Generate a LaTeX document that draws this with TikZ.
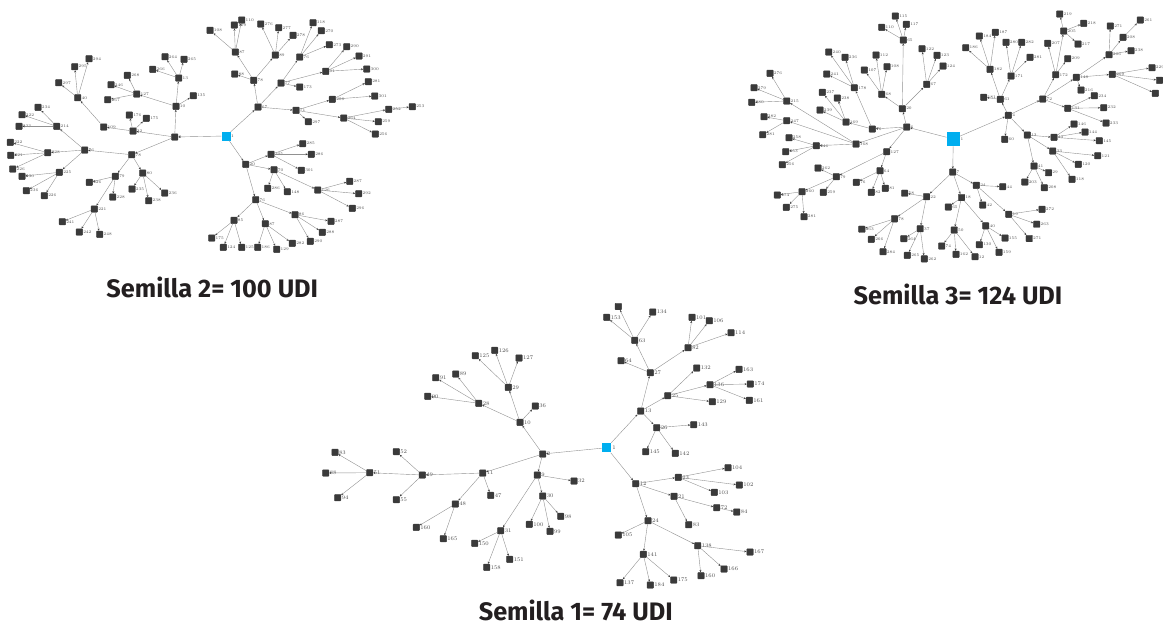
\documentclass[tikz,border=0pt]{standalone}
\usepackage{fontspec}
\newfontfamily\capfont{Fira Sans}
\usetikzlibrary{arrows.meta}
\definecolor{seed}{RGB}{0,174,239}
\definecolor{vertex}{RGB}{58,58,58}
\definecolor{link}{RGB}{145,145,145}
\definecolor{captxt}{RGB}{35,31,32}
\tikzset{
  sq/.style={draw=vertex,fill=vertex,minimum size=6.5pt,inner sep=0pt,rounded corners=0.7pt},
  seednode/.style={fill=seed,draw=none,inner sep=0pt},
  edge/.style={draw=link,line width=0.4pt,-{Stealth[length=2.3pt,width=2pt,color=black!75]}},
  lbl/.style={font=\fontsize{5.5}{6}\selectfont,text=black!70,inner sep=0.4pt,label distance=0pt},
  caption/.style={font=\capfont\bfseries\fontsize{25.3}{29}\selectfont,text=captxt,anchor=base,inner sep=0pt}
}
% tree vertex: name, x, y, printed number, parent
\newcommand\Tn[5]{%
  \node[sq,label={[lbl]right:#4}] (#1) at (#2,#3) {};%
  \draw[edge] (#5) -- (#1);}
\begin{document}
\begin{tikzpicture}[x=1pt,y=-1pt]
\useasboundingbox (0,0) rectangle (1163,632);

% ---------------- Semilla 1 ----------------
\begin{scope}
\node[seednode,minimum size=9.5pt,label={[lbl]right:1}] (a1) at (606.7,447.7) {};
\Tn{a2}{542.7}{454}{2}{a1}
\Tn{a10}{520}{422.3}{10}{a2}
\Tn{a28}{478.7}{403.3}{28}{a10}
\Tn{a91}{435.7}{377.7}{91}{a28}
\Tn{a89}{455.7}{374}{89}{a28}
\Tn{a90}{427.7}{396.3}{90}{a28}
\Tn{a29}{508.3}{387.3}{29}{a10}
\Tn{a125}{475.3}{355.7}{125}{a29}
\Tn{a126}{494.7}{350.3}{126}{a29}
\Tn{a127}{519}{358}{127}{a29}
\Tn{a36}{535.3}{406}{36}{a10}
\Tn{a11}{482.7}{473}{11}{a2}
\Tn{a49}{422.3}{475}{49}{a11}
\Tn{a51}{369.7}{472.7}{51}{a49}
\Tn{a83}{335}{452.3}{83}{a51}
\Tn{a88}{325.7}{473}{88}{a51}
\Tn{a94}{337.7}{497.7}{94}{a51}
\Tn{a52}{396.3}{451.7}{52}{a49}
\Tn{a55}{396.3}{499.7}{55}{a49}
\Tn{a47}{490.7}{495.3}{47}{a11}
\Tn{a48}{455.3}{504}{48}{a11}
\Tn{a160}{416.3}{527.3}{160}{a48}
\Tn{a165}{443.3}{538.7}{165}{a48}
\Tn{a9}{537.3}{475}{9}{a2}
\Tn{a32}{574}{481}{32}{a9}
\Tn{a30}{542.7}{496}{30}{a9}
\Tn{a100}{529.3}{524.3}{100}{a30}
\Tn{a99}{550}{531.3}{99}{a30}
\Tn{a98}{560.7}{516.3}{98}{a30}
\Tn{a31}{500.7}{530.7}{31}{a9}
\Tn{a150}{474.7}{543.3}{150}{a31}
\Tn{a158}{486.7}{567.3}{158}{a31}
\Tn{a151}{509.7}{559.3}{151}{a31}
\Tn{a13}{640.7}{411}{13}{a1}
\Tn{a27}{650.3}{372.7}{27}{a13}
\Tn{a63}{634.7}{340.3}{63}{a27}
\Tn{a153}{606.7}{317.3}{153}{a63}
\Tn{a154}{618.3}{306.5}{}{a63}
\Tn{a134}{652.7}{312}{134}{a63}
\Tn{a64}{621}{360.7}{64}{a27}
\Tn{a82}{688}{347.7}{82}{a27}
\Tn{a101}{692}{317.3}{101}{a82}
\Tn{a106}{709.3}{320.7}{106}{a82}
\Tn{a114}{731}{332.7}{114}{a82}
\Tn{a25}{667.7}{395.7}{25}{a13}
\Tn{a132}{696.7}{368}{132}{a25}
\Tn{a136}{710}{384.7}{136}{a25}
\Tn{a163}{739}{369.3}{163}{a136}
\Tn{a174}{750.3}{384}{174}{a136}
\Tn{a161}{749.3}{400.3}{161}{a136}
\Tn{a129}{712.3}{401.7}{129}{a25}
\Tn{a26}{656.7}{427.7}{26}{a13}
\Tn{a143}{693.7}{424.7}{143}{a26}
\Tn{a145}{645.7}{451.7}{145}{a26}
\Tn{a142}{675.3}{453.3}{142}{a26}
\Tn{a12}{635.7}{483.7}{12}{a1}
\Tn{a23}{678.3}{477.3}{23}{a12}
\Tn{a104}{728}{467.7}{104}{a23}
\Tn{a102}{739.3}{485}{102}{a23}
\Tn{a103}{714.3}{492.3}{103}{a23}
\Tn{a21}{674}{496.3}{21}{a12}
\Tn{a72}{716.7}{507.7}{72}{a21}
\Tn{a84}{736.7}{512}{84}{a72}
\Tn{a83b}{688.7}{524.7}{83}{a21}
\Tn{a24}{648}{520.7}{24}{a12}
\Tn{a105}{618.3}{535}{105}{a24}
\Tn{a141}{643.3}{554.3}{141}{a24}
\Tn{a137}{620}{582.7}{137}{a141}
\Tn{a184}{650.3}{585}{184}{a141}
\Tn{a175}{673.7}{580}{175}{a141}
\Tn{a138}{697.7}{545.7}{138}{a24}
\Tn{a167}{750}{552}{167}{a138}
\Tn{a166}{724}{569}{166}{a138}
\Tn{a160b}{701}{575.7}{160}{a138}
\end{scope}

% ---------------- Semilla 2 ----------------
\begin{scope}[lbl/.style={font=\fontsize{4}{4.5}\selectfont,text=black!70,inner sep=0.3pt}]
\node[seednode,minimum size=9pt,label={[lbl]right:1}] (b1) at (226,136) {};
\Tn{b2}{174.7}{137}{2}{b1}
\Tn{b10}{176}{106.3}{10}{b2}
\Tn{b13}{178.7}{78}{13}{b10}
\Tn{b264}{165}{56.7}{264}{b13}
\Tn{b265}{184}{59.3}{265}{b13}
\Tn{b266}{152.7}{69.3}{266}{b13}
\Tn{b135}{193.3}{95.7}{135}{b10}
\Tn{b127}{136.7}{94}{127}{b10}
\Tn{b268}{127.3}{75.3}{268}{b127}
\Tn{b246}{111}{84.7}{246}{b127}
\Tn{b267}{107.7}{99.7}{267}{b127}
\Tn{b32}{133}{131}{32}{b2}
\Tn{b176}{129.3}{115}{176}{b32}
\Tn{b175}{146.3}{118.3}{175}{b32}
\Tn{b109}{103.7}{127}{109}{b32}
\Tn{b40}{77.7}{97.7}{40}{b109}
\Tn{b297}{58.7}{82.7}{297}{b40}
\Tn{b295}{74.7}{66.7}{295}{b40}
\Tn{b294}{89}{58.7}{294}{b40}
\Tn{b78}{131.7}{154.7}{78}{b2}
\Tn{b76}{84.7}{150}{76}{b78}
\Tn{b214}{56.7}{126.3}{214}{b76}
\Tn{b234}{38}{107.3}{234}{b214}
\Tn{b222}{22}{114.7}{222}{b214}
\Tn{b223}{19}{126.3}{223}{b214}
\Tn{b228}{47.7}{152.7}{228}{b76}
\Tn{b222b}{10.3}{142.3}{222}{b228}
\Tn{b221}{10.7}{155.3}{221}{b228}
\Tn{b226}{12.7}{169}{226}{b228}
\Tn{b225}{59.3}{172.3}{225}{b76}
\Tn{b230}{22}{176.3}{230}{b225}
\Tn{b236}{26.3}{190.7}{236}{b225}
\Tn{b226b}{44.3}{195.7}{226}{b225}
\Tn{b79}{115.3}{176.3}{79}{b78}
\Tn{b226c}{89.3}{182.3}{226}{b79}
\Tn{b228b}{112.7}{197}{228}{b79}
\Tn{b221b}{94.3}{209}{221}{b79}
\Tn{b241}{62.3}{221.7}{241}{b221b}
\Tn{b242}{79.3}{232}{242}{b221b}
\Tn{b248}{99.7}{234.3}{248}{b221b}
\Tn{b80}{142.7}{173}{80}{b78}
\Tn{b235}{132}{189}{235}{b80}
\Tn{b238}{148.7}{200.7}{238}{b80}
\Tn{b236b}{164.7}{193}{236}{b80}
\Tn{b67}{258}{107}{67}{b1}
\Tn{b78r}{253.7}{80.3}{78}{b67}
\Tn{b87}{235.3}{52}{87}{b78r}
\Tn{b108}{210}{30.3}{108}{b87}
\Tn{b109r}{234.3}{25}{109}{b87}
\Tn{b110}{241.7}{20}{110}{b87}
\Tn{b88}{234.7}{74}{88}{b78r}
\Tn{b89}{275.3}{55}{89}{b78r}
\Tn{b276}{260.7}{24}{276}{b89}
\Tn{b277}{278.7}{27.7}{277}{b89}
\Tn{b278}{293}{35.3}{278}{b89}
\Tn{b77}{281}{83}{77}{b67}
\Tn{b173}{299.7}{87}{173}{b77}
\Tn{b76r}{299.7}{57}{76}{b77}
\Tn{b118}{313}{22.7}{118}{b76r}
\Tn{b270}{321.3}{30.7}{270}{b76r}
\Tn{b273}{329.3}{44.7}{273}{b76r}
\Tn{b91}{325.7}{71.3}{91}{b77}
\Tn{b290}{346.7}{46.7}{290}{b91}
\Tn{b291}{359}{56}{291}{b91}
\Tn{b300}{366.7}{69}{300}{b91}
\Tn{b71}{296}{110.3}{71}{b67}
\Tn{b297r}{308.3}{121.7}{297}{b71}
\Tn{b208}{332.3}{99.3}{208}{b71}
\Tn{b281}{368.3}{81.7}{281}{b208}
\Tn{b301}{374.7}{96}{301}{b208}
\Tn{b264r}{343.7}{118}{264}{b71}
\Tn{b252}{388.7}{109.3}{252}{b264r}
\Tn{b253}{412.3}{106.7}{253}{b252}
\Tn{b259}{378.3}{121.7}{259}{b264r}
\Tn{b256}{375.3}{134}{256}{b264r}
\Tn{b20}{245.7}{164.3}{20}{b1}
\Tn{b105}{271}{154.3}{105}{b20}
\Tn{b285}{302.7}{143.7}{285}{b105}
\Tn{b286}{311.3}{154.3}{286}{b105}
\Tn{b301b}{301.3}{170.3}{301}{b105}
\Tn{b70}{274}{169.7}{70}{b20}
\Tn{b286b}{267.7}{188.3}{286}{b70}
\Tn{b148}{287.3}{191.7}{148}{b70}
\Tn{b126}{317.7}{190}{126}{b70}
\Tn{b287}{349.7}{181.3}{287}{b126}
\Tn{b292}{358.7}{193.7}{292}{b126}
\Tn{b296}{352.3}{208.3}{296}{b126}
\Tn{b76b}{255.7}{199.7}{76}{b20}
\Tn{b85}{234}{220.3}{85}{b76b}
\Tn{b175b}{211.7}{238}{175}{b85}
\Tn{b124}{223.3}{247.3}{124}{b85}
\Tn{b125}{241.7}{247.3}{125}{b85}
\Tn{b87b}{265.3}{223.7}{87}{b76b}
\Tn{b186}{257.7}{247.3}{186}{b87b}
\Tn{b129}{276.7}{249.3}{129}{b87b}
\Tn{b282}{292.3}{243.3}{282}{b87b}
\Tn{b86}{295}{214.7}{86}{b76b}
\Tn{b287b}{331}{221.3}{287}{b86}
\Tn{b288}{322.3}{232.3}{288}{b86}
\Tn{b290b}{310.3}{241.3}{290}{b86}
\end{scope}

% ---------------- Semilla 3 ----------------
\begin{scope}[lbl/.style={font=\fontsize{4}{4.5}\selectfont,text=black!70,inner sep=0.3pt}]
\node[seednode,minimum width=13pt,minimum height=14.5pt,label={[lbl]right:1}] (c1) at (953.3,139) {};
\Tn{c6}{906.7}{127}{6}{c1}
\Tn{c20}{902.3}{108.7}{20}{c6}
\Tn{c65}{903.3}{40}{65}{c20}
\Tn{c115}{895.3}{16}{115}{c65}
\Tn{c117}{906.3}{24.3}{117}{c65}
\Tn{c110}{881.7}{27.3}{110}{c65}
\Tn{c68}{881.7}{94.3}{68}{c20}
\Tn{c112}{876}{55}{112}{c68}
\Tn{c107}{864.3}{70}{107}{c68}
\Tn{c108}{887}{66.7}{108}{c68}
\Tn{c67}{926.7}{84.3}{67}{c20}
\Tn{c122}{922}{48.7}{122}{c67}
\Tn{c123}{937}{55.3}{123}{c67}
\Tn{c124}{943}{66}{124}{c67}
\Tn{c76}{872.3}{129}{76}{c6}
\Tn{c178}{854.3}{87.7}{178}{c76}
\Tn{c240}{828.7}{52}{240}{c178}
\Tn{c236}{845}{57.3}{236}{c178}
\Tn{c241}{826.7}{74}{241}{c178}
\Tn{c169}{846}{122}{169}{c76}
\Tn{c237}{822.3}{92.3}{237}{c169}
\Tn{c238}{837.3}{98}{238}{c169}
\Tn{c239}{820}{110}{239}{c169}
\Tn{c168}{856}{144}{168}{c6}
\Tn{c215}{786.7}{101}{215}{c168}
\Tn{c276}{770}{73.3}{276}{c215}
\Tn{c279}{754}{87.7}{279}{c215}
\Tn{c280}{751.7}{102.3}{280}{c215}
\Tn{c247}{786.7}{120.7}{247}{c168}
\Tn{c282}{764}{116.7}{282}{c247}
\Tn{c281}{762.7}{134.7}{281}{c247}
\Tn{c246}{816.3}{145.7}{246}{c168}
\Tn{c258}{789}{137.7}{258}{c246}
\Tn{c253}{785.7}{151.7}{253}{c246}
\Tn{c256}{782.3}{164.7}{256}{c246}
\Tn{c127}{886.7}{151.7}{127}{c6}
\Tn{c64}{880}{170.7}{64}{c127}
\Tn{c76b}{856.3}{182.3}{76}{c64}
\Tn{c82}{871.3}{192.3}{82}{c64}
\Tn{c81}{885.3}{188.3}{81}{c64}
\Tn{c79}{836.3}{176.7}{79}{c127}
\Tn{c262}{818}{168}{262}{c79}
\Tn{c259}{823.3}{192.3}{259}{c79}
\Tn{c260}{802}{191.7}{260}{c79}
\Tn{c274}{777.3}{195}{274}{c260}
\Tn{c275}{786.3}{207.3}{275}{c260}
\Tn{c281b}{804}{216.7}{281}{c260}
\Tn{c7}{952.7}{172}{7}{c1}
\Tn{c22}{926.5}{196.7}{22}{c7}
\Tn{c58}{904.7}{193.2}{58}{c22}
\Tn{c78}{894.5}{218.8}{78}{c22}
\Tn{c263}{861.8}{229.2}{263}{c78}
\Tn{c266}{871.3}{239.3}{266}{c78}
\Tn{c284}{883}{251.7}{284}{c78}
\Tn{c37}{920.2}{228.7}{37}{c22}
\Tn{c264}{903.8}{238.7}{264}{c37}
\Tn{c265}{907.3}{255.3}{265}{c37}
\Tn{c262b}{924.3}{258.8}{262}{c37}
\Tn{c18}{961.5}{197.5}{18}{c7}
\Tn{c65b}{948.3}{207}{65}{c18}
\Tn{c50}{954.2}{230}{50}{c18}
\Tn{c74}{941.7}{246}{74}{c50}
\Tn{c162}{956}{254.3}{162}{c50}
\Tn{c12}{975}{256.7}{12}{c50}
\Tn{c40}{985.7}{225.8}{40}{c18}
\Tn{c130}{979.3}{244.7}{130}{c40}
\Tn{c155}{1005}{238}{155}{c40}
\Tn{c159}{999}{252.3}{159}{c40}
\Tn{c24}{976.3}{185.3}{24}{c7}
\Tn{c44}{1002.7}{186.7}{44}{c24}
\Tn{c42}{982.7}{205}{42}{c24}
\Tn{c19}{1008.7}{214.3}{19}{c24}
\Tn{c272}{1042}{209.3}{272}{c19}
\Tn{c263b}{1036.7}{224.2}{263}{c19}
\Tn{c271}{1029.2}{238.5}{271}{c19}
\Tn{c4}{1008.3}{115.3}{4}{c1}
\Tn{c60}{1004.7}{139.3}{60}{c4}
\Tn{c61}{1000.3}{99.3}{61}{c4}
\Tn{c181}{983.7}{97.3}{181}{c61}
\Tn{c182}{990}{69.3}{182}{c61}
\Tn{c184}{979.3}{36}{184}{c182}
\Tn{c187}{995.3}{32.3}{187}{c182}
\Tn{c186}{965.7}{47.7}{186}{c182}
\Tn{c171}{1011}{76}{171}{c61}
\Tn{c280b}{1006}{42.3}{280}{c171}
\Tn{c282b}{1021.7}{42.3}{282}{c171}
\Tn{c281c}{1030}{57.3}{281}{c171}
\Tn{c72}{1042.7}{99}{72}{c4}
\Tn{c172}{1055.7}{74.7}{172}{c72}
\Tn{c207}{1047.7}{43.3}{207}{c172}
\Tn{c209}{1067.7}{58.7}{209}{c172}
\Tn{c205}{1063.7}{31}{205}{c172}
\Tn{c219}{1059.7}{14}{219}{c205}
\Tn{c218}{1083.7}{23.3}{218}{c205}
\Tn{c217}{1078}{44}{217}{c205}
\Tn{c148}{1076.3}{77.3}{148}{c72}
\Tn{c216}{1081}{90}{216}{c148}
\Tn{c206}{1109}{54.7}{206}{c148}
\Tn{c271b}{1110.3}{26}{271}{c206}
\Tn{c208}{1123}{37.3}{208}{c206}
\Tn{c261}{1140.3}{20}{261}{c208}
\Tn{c238b}{1131}{50.7}{238}{c206}
\Tn{c209b}{1112.3}{74.3}{209}{c148}
\Tn{c229}{1152}{67.7}{229}{c209b}
\Tn{c230}{1159.5}{80.3}{}{c209b}
\Tn{c231}{1155.3}{93.3}{}{c209b}
\Tn{c131}{1067.7}{108.3}{131}{c72}
\Tn{c234}{1094.3}{95.7}{234}{c131}
\Tn{c232}{1103.7}{107.7}{232}{c131}
\Tn{c233}{1106}{123}{233}{c131}
\Tn{c13}{1027.3}{135}{13}{c4}
\Tn{c43}{1054}{137.3}{43}{c13}
\Tn{c146}{1074}{124}{146}{c43}
\Tn{c144}{1085}{132}{144}{c43}
\Tn{c145}{1099.3}{140.7}{145}{c43}
\Tn{c33}{1052.7}{151}{33}{c13}
\Tn{c121}{1097.7}{155.7}{121}{c33}
\Tn{c120}{1078.3}{164.3}{120}{c33}
\Tn{c118}{1072}{179.3}{118}{c33}
\Tn{c41}{1034}{166}{41}{c13}
\Tn{c29}{1048.5}{172.7}{29}{c41}
\Tn{c203}{1024.8}{182}{203}{c41}
\Tn{c208b}{1044.3}{187.7}{208}{c41}
\end{scope}

% ---------------- captions ----------------
\node[caption] (cap2) at (212.3,297.3) {Semilla 2= 100 UDI};
\node[caption] (cap3) at (958,304) {Semilla 3= 124 UDI};
\node[caption] (cap1) at (575.8,620) {Semilla 1= 74 UDI};
\end{tikzpicture}
\end{document}
